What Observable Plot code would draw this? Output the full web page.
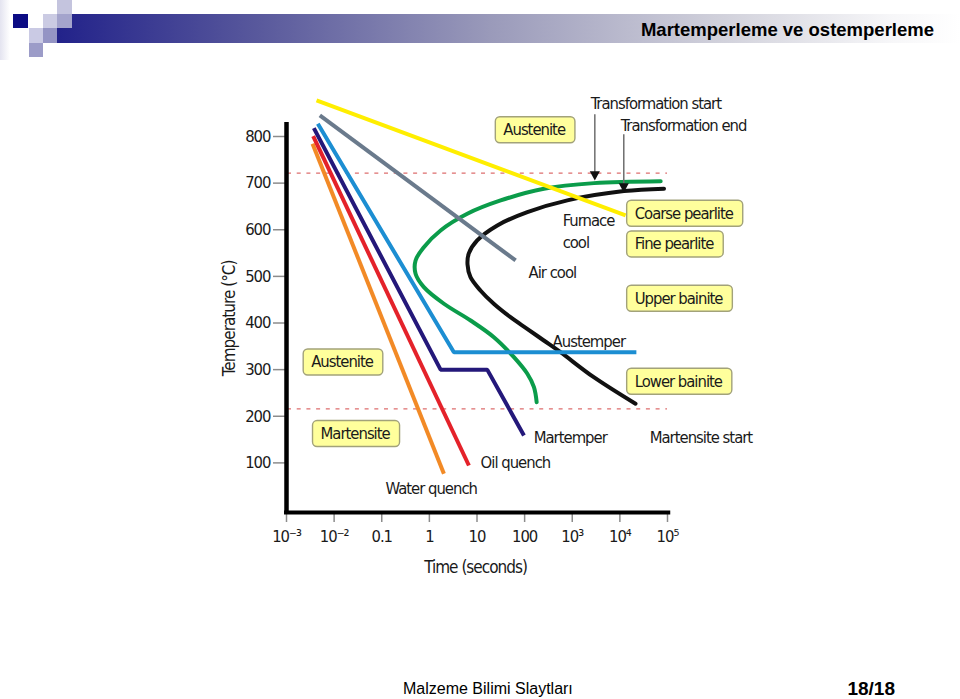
<!DOCTYPE html>
<html>
<head>
<meta charset="utf-8">
<script src="https://cdn.jsdelivr.net/npm/d3@7"></script>
<script src="https://cdn.jsdelivr.net/npm/@observablehq/plot@0.6"></script>
<style>
  html, body { margin: 0; padding: 0; background: #fff; }
  #page { position: relative; width: 960px; height: 699px; overflow: hidden; font-family: "Liberation Sans", Arial, sans-serif; }
  #page svg { position: absolute; left: 0; top: 0; }
  .sq { position: absolute; }
  #strip { position: absolute; left: 0; top: 0; width: 10px; height: 60px; background: linear-gradient(to right, #e4e4f0, #ffffff); }
  #bar { position: absolute; left: 57px; top: 14px; width: 903px; height: 29px;
         background: linear-gradient(to right, #22228a 0%, #58589c 22%, #9a9aba 48%, #d2d2dc 74%, #f6f6f8 92%, #ffffff 100%); }
  #title { position: absolute; right: 26px; top: 19px; font: bold 18.5px "Liberation Sans", Arial, sans-serif; color: #000; white-space: nowrap; }
  #footer { position: absolute; left: 403px; top: 680px; font: 16px "Liberation Sans", Arial, sans-serif; color: #000; white-space: nowrap; }
  #page-no { position: absolute; right: 65px; top: 678px; font: bold 19px "Liberation Sans", Arial, sans-serif; color: #000; white-space: nowrap; }
</style>
</head>
<body>
<div id="page">
  <div id="strip"></div>
  <div id="bar"></div>
  <div class="sq" style="left:13px;top:14px;width:15px;height:14px;background:#0c0c84"></div>
  <div class="sq" style="left:43px;top:14px;width:14px;height:14px;background:#cbcbe3"></div>
  <div class="sq" style="left:57px;top:0px;width:15px;height:14px;background:#c4c4de"></div>
  <div class="sq" style="left:57px;top:14px;width:15px;height:14px;background:#a4a4cc"></div>
  <div class="sq" style="left:29px;top:28px;width:14px;height:15px;background:#cacae4"></div>
  <div class="sq" style="left:43px;top:28px;width:14px;height:15px;background:#9494c4"></div>
  <div class="sq" style="left:29px;top:43px;width:14px;height:14px;background:#9c9cc8"></div>
  <div id="title">Martemperleme ve ostemperleme</div>
  <div id="footer">Malzeme Bilimi Slaytları</div>
  <div id="page-no">18/18</div>
</div>
<script>
// ---------- axis ticks ----------
const xTicks = [1e-3, 1e-2, 0.1, 1, 10, 100, 1e3, 1e4, 1e5];
const xTickLabels = ["10⁻³", "10⁻²", "0.1", "1", "10", "100", "10³", "10⁴", "10⁵"];
const yTicks = [100, 200, 300, 400, 500, 600, 700, 800];
const yTickLabels = ["100", "200", "300", "400", "500", "600", "700", "800"];
const xAxisTitle = "Time (seconds)";
const yAxisTitle = "Temperature (°C)";
const xAxisTitleAt = [9.3];
const yAxisTitleAt = [410];
const axisTimeExtent = [9.1e-4, 1.17e5];
const axisTempExtent = [-10.7, 830];

// ---------- cooling paths (time s, temperature °C) ----------
const waterTime = [0.00352, 2.02];
const waterTemp = [784.5, 76.6];
const oilTime = [0.00363, 6.76];
const oilTemp = [800.8, 94.4];
const martemperTime = [0.00375, 1.72, 16.4, 96.8];
const martemperTemp = [817.9, 300, 300, 158.8];
const austemperTime = [0.00455, 3.27, 22200];
const austemperTemp = [827.4, 337.4, 337.4];
const airTime = [0.00501, 64.7];
const airTemp = [845.2, 534.1];
const furnaceTime = [0.00427, 13200];
const furnaceTemp = [877.3, 630.7];

// ---------- transformation curves ----------
const startTime = [71900, 2860, 254, 31.3, 6.25, 1.72, 0.766, 0.513, 0.513, 0.766, 2.02, 7.34, 22.6, 59.6, 114, 157, 179];
const startTemp = [704.2, 700.0, 687.9, 662.8, 634.3, 598.5, 562.7, 534.1, 505.6, 476.9, 441.3, 405.4, 369.6, 326.7, 291.1, 262.4, 230.2];
const endTime = [84400, 12200, 789, 114, 26.7, 10.1, 6.73, 6.32, 7.30, 11.8, 22.5, 50.5, 113, 253, 566, 2830, 21300];
const endTemp = [688.1, 682.9, 663, 637.8, 609.3, 577.1, 549.2, 525.6, 498.3, 469.8, 441.3, 412.5, 387.6, 362.5, 337.4, 283.8, 226.8];

// ---------- critical temperatures (dashed) ----------
const criticalTemps = [721.4, 216];
const criticalTimeExtent = [1.05e-3, 1e5];

// ---------- arrows ----------
const arrowTimes = [2978, 12080];
const arrowTopTemps = [846.7, 803.8];
const arrowTipTemps = [715.4, 690];

// ---------- labels ----------
const plainLabels = ["Transformation start", "Transformation end", "Furnace", "cool", "Air cool", "Austemper", "Martemper", "Martensite start", "Oil quench", "Water quench"];
const plainTimes = [2438, 10400, 628, 628, 121, 387, 155, 42300, 11.9, 0.120];
const plainTemps = [871.0, 823.7, 619.9, 572.7, 508.4, 360.4, 154.5, 154.5, 100.9, 45.1];

const boxLabels = ["Austenite", "Coarse pearlite", "Fine pearlite", "Upper bainite", "Lower bainite", "Austenite", "Martensite"];
const boxTimes = [35.7, 20460, 20460, 20460, 20460, 0.00330, 0.00518];
const boxTemps = [814.1, 635, 569.1, 452.6, 274.6, 316, 162.4];

// ---------- styles ----------
const seriesColor = {
  water: "#f28a26", oil: "#e4222a", martemper: "#24187a", austemper: "#1c8ed2",
  air: "#6a7a8c", furnace: "#ffee00", start: "#0b9c4a", end: "#111111"
};

function zip(times, temps) { return times.map((t, i) => ({t, T: temps[i]})); }

function pickFont() {
  const ctx = document.createElement("canvas").getContext("2d");
  const s = "Transformation start 0123456789";
  const has = (name) => {
    for (const base of ["monospace", "serif"]) {
      ctx.font = `40px ${base}`; const w1 = ctx.measureText(s).width;
      ctx.font = `40px "${name}", ${base}`; const w2 = ctx.measureText(s).width;
      if (Math.abs(w1 - w2) > 0.5) return true;
    }
    return false;
  };
  if (has("Liberation Sans Narrow")) return {family: '"Liberation Sans Narrow", sans-serif', ls: "0px", label: 17, tick: 18, title: 18};
  if (has("Arial Narrow")) return {family: '"Arial Narrow", sans-serif', ls: "0px", label: 17, tick: 18, title: 18};
  if (has("DejaVu Sans Condensed")) return {family: '"DejaVu Sans Condensed", sans-serif', ls: "-1px", label: 16.5, tick: 16.5, title: 17};
  return {family: '"Liberation Sans", Arial, sans-serif', ls: "-0.9px", label: 16, tick: 17, title: 17};
}
const F = pickFont();

const downTriangle = {
  draw(context, size) {
    const h = Math.sqrt(size);
    context.moveTo(-h * 0.55, -h / 2);
    context.lineTo(h * 0.55, -h / 2);
    context.lineTo(0, h / 2);
    context.closePath();
  }
};

const cooling = [
  ["water", waterTime, waterTemp], ["oil", oilTime, oilTemp],
  ["martemper", martemperTime, martemperTemp], ["austemper", austemperTime, austemperTemp],
  ["air", airTime, airTemp], ["furnace", furnaceTime, furnaceTemp]
];
const curves = [["start", startTime, startTemp], ["end", endTime, endTemp]];

const textColor = "#1a1a1a";
const xLabelMap = new Map(xTicks.map((d, i) => [d, xTickLabels[i]]));
const yLabelMap = new Map(yTicks.map((d, i) => [d, yTickLabels[i]]));

const chart = Plot.plot({
  width: 960,
  height: 699,
  marginLeft: 286,
  marginBottom: 187,
  marginTop: 0,
  marginRight: 0,
  style: {background: "transparent", fontFamily: F.family, letterSpacing: F.ls, overflow: "visible", color: textColor},
  x: {type: "log", domain: [1e-3, 1e5], range: [286, 667]},
  y: {type: "linear", domain: [-6.4, 800], range: [512, 136]},
  marks: [
    // dashed critical temperature lines
    Plot.ruleY(criticalTemps, {x1: criticalTimeExtent[0], x2: criticalTimeExtent[1], stroke: "#dd6e6e", strokeWidth: 1.3, strokeDasharray: "4,5.7"}),
    // axes
    Plot.axisX({ticks: xTicks, tickFormat: d => xLabelMap.get(d), tickSize: 10, tickPadding: 8, stroke: "#8c8c8c", strokeWidth: 1.5, fill: textColor, fontSize: F.tick, fontFamily: F.family, label: null}),
    Plot.axisY({ticks: yTicks, tickFormat: d => yLabelMap.get(d), tickSize: 13, tickPadding: 3, stroke: "#8c8c8c", strokeWidth: 1.5, fill: textColor, fontSize: F.tick, fontFamily: F.family, label: null}),
    Plot.ruleX([xTicks[0]], {y1: axisTempExtent[0], y2: axisTempExtent[1], stroke: "#000", strokeWidth: 4.5}),
    Plot.ruleY([-6.4], {x1: axisTimeExtent[0], x2: axisTimeExtent[1], stroke: "#000", strokeWidth: 4}),
    // transformation curves
    ...curves.map(([name, ts, Ts]) => Plot.line(zip(ts, Ts), {x: "t", y: "T", curve: "catmull-rom", stroke: seriesColor[name], strokeWidth: 4})),
    // cooling paths
    ...cooling.map(([name, ts, Ts]) => Plot.line(zip(ts, Ts), {x: "t", y: "T", curve: "linear", stroke: seriesColor[name], strokeWidth: 4, strokeLinecap: "butt", strokeLinejoin: "miter"})),
    // arrows
    Plot.ruleX(arrowTimes.map((t, i) => ({t, top: arrowTopTemps[i], tip: arrowTipTemps[i]})), {x: "t", y1: "top", y2: "tip", stroke: "#6e6e6e", strokeWidth: 1.5}),
    Plot.dot(arrowTimes.map((t, i) => ({t, tip: arrowTipTemps[i]})), {x: "t", y: "tip", symbol: downTriangle, r: 5.2, fill: "#111", stroke: "none"}),
    // axis titles
    Plot.text([xAxisTitle], {x: xAxisTitleAt, frameAnchor: "bottom", dy: 55, text: d => d, textAnchor: "middle", lineAnchor: "middle", fontSize: F.title, fill: textColor}),
    Plot.text([yAxisTitle], {y: yAxisTitleAt, frameAnchor: "left", dx: -57, rotate: -90, text: d => d, textAnchor: "middle", lineAnchor: "middle", fontSize: F.title, fill: textColor}),
    // plain labels
    Plot.text(plainLabels.map((label, i) => ({label, t: plainTimes[i], T: plainTemps[i]})), {x: "t", y: "T", text: "label", textAnchor: "start", lineAnchor: "middle", fontSize: F.label, fill: textColor}),
    // boxed labels (last text mark)
    Plot.text(boxLabels.map((label, i) => ({label, t: boxTimes[i], T: boxTemps[i]})), {x: "t", y: "T", text: "label", textAnchor: "start", lineAnchor: "middle", fontSize: F.label, fill: textColor})
  ]
});

const page = document.getElementById("page");
page.insertBefore(chart, document.getElementById("title"));

// yellow rounded boxes behind the boxed labels
const svgRect = chart.getBoundingClientRect();
const textGroups = chart.querySelectorAll('g[aria-label="text"]');
const g = textGroups[textGroups.length - 1];
if (g) {
  const ns = "http://www.w3.org/2000/svg";
  const rg = document.createElementNS(ns, "g");
  g.querySelectorAll("text").forEach(t => {
    const r = t.getBoundingClientRect();
    const cy = r.top - svgRect.top + r.height / 2;
    const rect = document.createElementNS(ns, "rect");
    rect.setAttribute("x", r.left - svgRect.left - 8);
    rect.setAttribute("y", cy - 13);
    rect.setAttribute("width", r.width + 17);
    rect.setAttribute("height", 26);
    rect.setAttribute("rx", 4.5);
    rect.setAttribute("fill", "#ffff9c");
    rect.setAttribute("stroke", "#a2a27a");
    rect.setAttribute("stroke-width", 1.4);
    rg.appendChild(rect);
  });
  g.parentNode.insertBefore(rg, g);
}
</script>
</body>
</html>
